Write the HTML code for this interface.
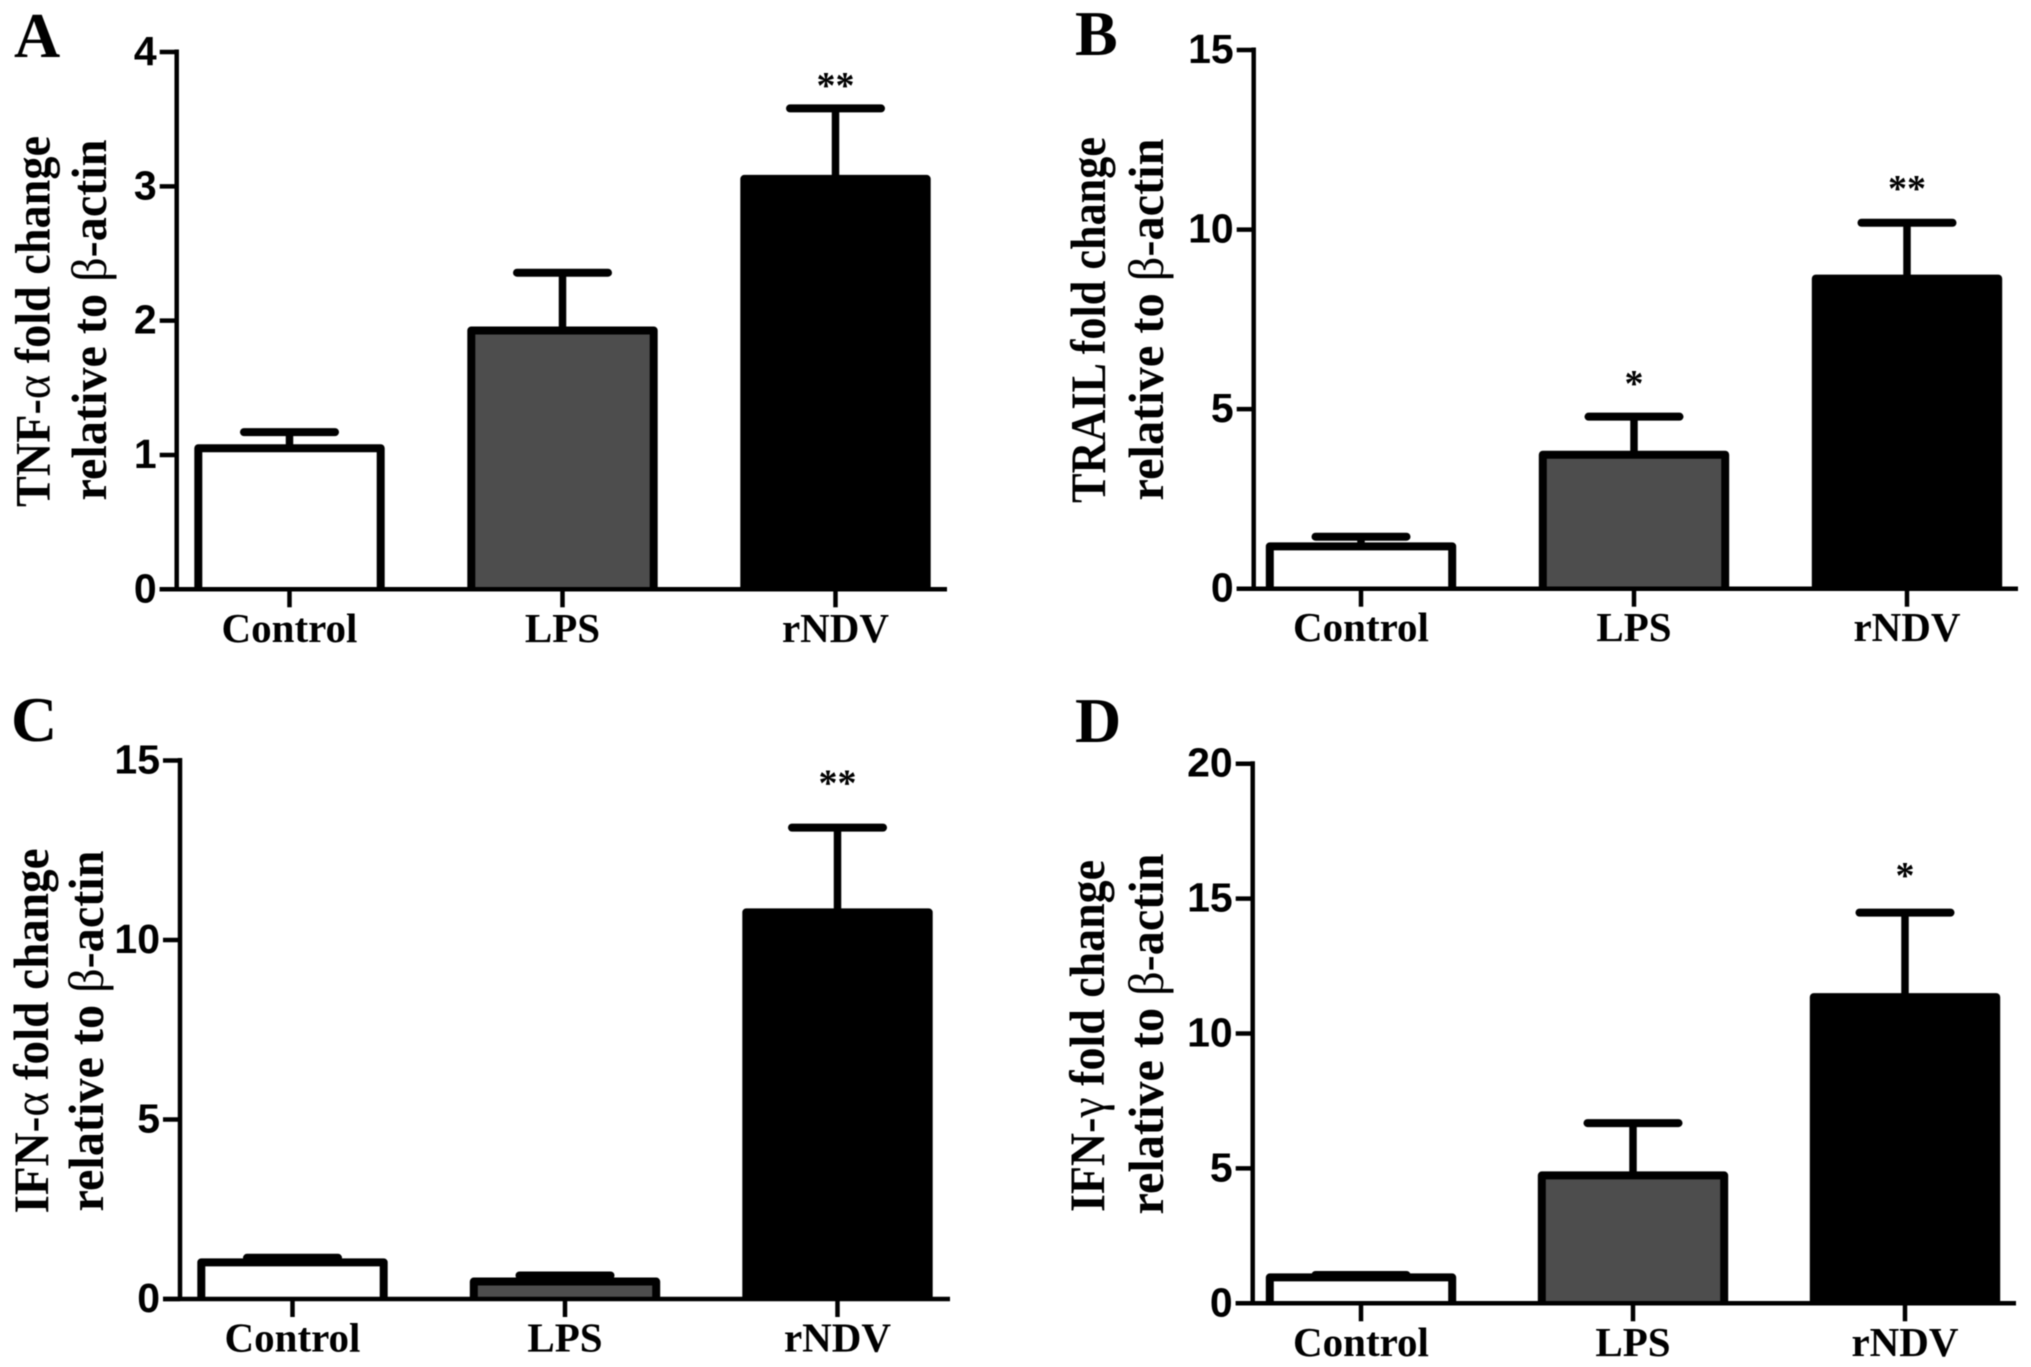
<!DOCTYPE html>
<html lang="en">
<head>
<meta charset="utf-8">
<title>Fold change relative to β-actin</title>
<style>
html,body{margin:0;padding:0;background:#fff;}
svg{display:block;filter:blur(0.6px);}
.tick{font:bold 41px "Liberation Sans",sans-serif;fill:#000;text-anchor:end;}
.cat{font:bold 41px "Liberation Serif",serif;fill:#000;text-anchor:middle;}
.ttl{font:bold 50px "Liberation Serif",serif;fill:#000;}
.greek{font-weight:normal;}
.letter{font:bold 64px "Liberation Serif",serif;fill:#000;}
.star{font:bold 38px "Liberation Serif",serif;fill:#000;text-anchor:middle;}
</style>
</head>
<body>
<svg id="figure" xmlns="http://www.w3.org/2000/svg" width="2031" height="1367" viewBox="0 0 2031 1367"></svg>
<script>
const categories = ['Control', 'LPS', 'rNDV'];

const tnfMeans = [1.05, 1.927, 3.055];
const tnfUpper = [1.17, 2.357, 3.58];
const tnfStars = ['', '', '**'];
const tnfStarLevels = [0, 0, 3.79];
const tnfTicks = [0, 1, 2, 3, 4];

const trailMeans = [1.18, 3.73, 8.635];
const trailUpper = [1.448, 4.79, 10.19];
const trailStars = ['', '*', '**'];
const trailStarLevels = [0, 5.87, 11.3];
const trailTicks = [0, 5, 10, 15];

const ifnAlphaMeans = [1.02, 0.487, 10.77];
const ifnAlphaUpper = [1.148, 0.655, 13.13];
const ifnAlphaStars = ['', '', '**'];
const ifnAlphaStarLevels = [0, 0, 14.53];
const ifnAlphaTicks = [0, 5, 10, 15];

const ifnGammaMeans = [0.96, 4.74, 11.35];
const ifnGammaUpper = [1.05, 6.68, 14.48];
const ifnGammaStars = ['', '', '*'];
const ifnGammaStarLevels = [0, 0, 16.06];
const ifnGammaTicks = [0, 5, 10, 15, 20];

const barFills = ['#ffffff', '#4d4d4d', '#000000'];

const svg = document.getElementById('figure');
const NS = 'http://www.w3.org/2000/svg';

function mk(tag, attrs, parent) {
  const el = document.createElementNS(NS, tag);
  for (const k in attrs) el.setAttribute(k, attrs[k]);
  parent.appendChild(el);
  return el;
}

function drawLabelLine(g, x, cy, length, before, greek, after) {
  const t = mk('text', {
    class: 'ttl',
    transform: 'translate(' + x + ' ' + cy + ') rotate(-90)',
    'text-anchor': 'middle',
    textLength: length,
    lengthAdjust: 'spacingAndGlyphs'
  }, g);
  t.appendChild(document.createTextNode(before));
  const s = mk('tspan', { class: 'greek' }, t);
  s.textContent = greek;
  t.appendChild(document.createTextNode(after));
  return t;
}

function drawPanel(p) {
  const g = mk('g', {}, svg);
  
  

  const maxV = p.ticks[p.ticks.length - 1];
  const yScale = v => p.y0 + (p.yTop - p.y0) * v / maxV;
  const xScale = i => p.x0 + i * p.step;

  // panel letter
  const letter = mk('text', { class: 'letter', x: p.letterX, y: p.letterY }, g);
  letter.textContent = p.key;
  
  

  // y-axis title
  const t1 = drawLabelLine(g, p.title1X, p.titleCy1, p.title1Len, p.titleBefore, p.titleGreek, p.titleAfter);
  
  
  const t2 = drawLabelLine(g, p.title2X, p.titleCy2, p.title2Len, 'relative to ', 'β', '-actin');
  
  

  // bars
  categories.forEach((c, i) => {
    const cx = xScale(i);
    const top = yScale(p.means[i]);
    const capY = yScale(p.upper[i]);
    const errLine = mk('line', { x1: cx, x2: cx, y1: capY, y2: top, stroke: '#000', 'stroke-width': 7.5 }, g);
    
    
    const cap = mk('line', { x1: cx - 45.5, x2: cx + 45.5, y1: capY, y2: capY, stroke: '#000', 'stroke-width': 8, 'stroke-linecap': 'round' }, g);
    
    
    const left = cx - 91.2;
    const right = cx + 91.2;
    const bar = mk('path', {
      d: 'M' + left + ' ' + p.y0 + 'V' + top + 'H' + right + 'V' + p.y0,
      fill: barFills[i], stroke: '#000', 'stroke-width': 8, 'stroke-linejoin': 'round'
    }, g);
    
    
    if (p.stars[i]) {
      const star = mk('text', { class: 'star', x: cx, y: yScale(p.starLevels[i]) + 18 }, g);
      star.textContent = p.stars[i];
      
      
    }
    const tick = mk('line', { x1: cx, x2: cx, y1: p.y0, y2: p.y0 + 18, stroke: '#000', 'stroke-width': 4.5 }, g);
    
    
    const label = mk('text', { class: 'cat', x: cx, y: p.y0 + 52.5 }, g);
    label.textContent = c;
    
    
  });

  // axes
  const yAxis = mk('line', { x1: p.axisX, x2: p.axisX, y1: yScale(maxV) - 2.5, y2: p.y0 + 2, stroke: '#000', 'stroke-width': 4.5 }, g);
  
  
  const xAxis = mk('line', { x1: p.axisX - 17, x2: p.xEnd, y1: p.y0, y2: p.y0, stroke: '#000', 'stroke-width': 4.5 }, g);
  
  

  p.ticks.forEach(v => {
    const y = yScale(v);
    const tick = mk('line', { x1: p.axisX - 17, x2: p.axisX, y1: y, y2: y, stroke: '#000', 'stroke-width': 4.5 }, g);
    
    
    const label = mk('text', { class: 'tick', x: p.axisX - 20, y: y + 13 }, g);
    label.textContent = v;
    
    
  });
}

drawPanel({
  key: 'A', means: tnfMeans, upper: tnfUpper, stars: tnfStars, starLevels: tnfStarLevels, ticks: tnfTicks,
  axisX: 176.7, yTop: 52, y0: 589.3, x0: 289.5, step: 273, xEnd: 947,
  letterX: 14, letterY: 57,
  title1X: 49.5, title1Len: 371, titleCy1: 321.5, title2X: 106, title2Len: 361, titleCy2: 320,
  titleBefore: 'TNF-', titleGreek: 'α', titleAfter: ' fold change'
});
drawPanel({
  key: 'B', means: trailMeans, upper: trailUpper, stars: trailStars, starLevels: trailStarLevels, ticks: trailTicks,
  axisX: 1253.7, yTop: 50, y0: 588.7, x0: 1361, step: 273, xEnd: 2018,
  letterX: 1075, letterY: 55,
  title1X: 1105, title1Len: 366, titleCy1: 320, title2X: 1163, title2Len: 362, titleCy2: 319.5,
  titleBefore: 'TRAIL fold change', titleGreek: '', titleAfter: ''
});
drawPanel({
  key: 'C', means: ifnAlphaMeans, upper: ifnAlphaUpper, stars: ifnAlphaStars, starLevels: ifnAlphaStarLevels, ticks: ifnAlphaTicks,
  axisX: 180, yTop: 760.5, y0: 1299, x0: 292.5, step: 272.5, xEnd: 950,
  letterX: 11, letterY: 741,
  title1X: 48, title1Len: 365, titleCy1: 1031, title2X: 103, title2Len: 361, titleCy2: 1031,
  titleBefore: 'IFN-', titleGreek: 'α', titleAfter: ' fold change'
});
drawPanel({
  key: 'D', means: ifnGammaMeans, upper: ifnGammaUpper, stars: ifnGammaStars, starLevels: ifnGammaStarLevels, ticks: ifnGammaTicks,
  axisX: 1252.7, yTop: 763.7, y0: 1303.3, x0: 1361, step: 272, xEnd: 2016,
  letterX: 1075, letterY: 742,
  title1X: 1104, title1Len: 352, titleCy1: 1036, title2X: 1163, title2Len: 361, titleCy2: 1034,
  titleBefore: 'IFN-', titleGreek: 'γ', titleAfter: ' fold change'
});
</script>
</body>
</html>
